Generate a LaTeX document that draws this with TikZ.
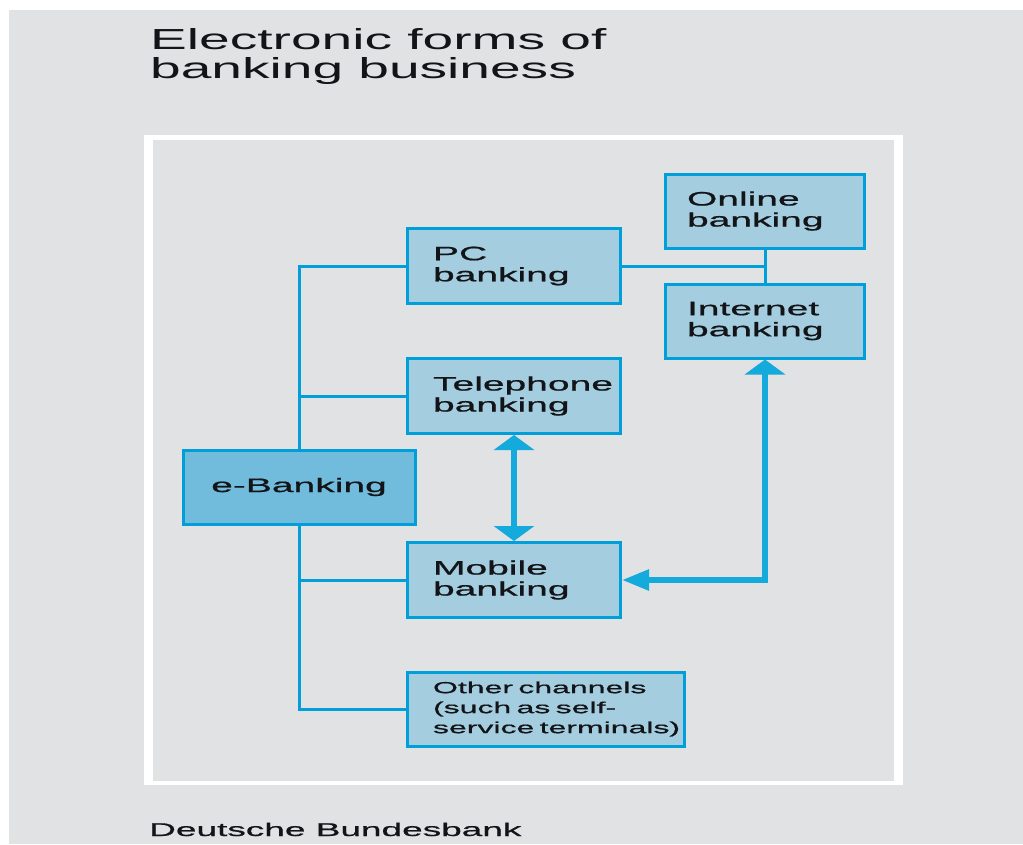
\documentclass[tikz,border=0pt]{standalone}
\usepackage{fontspec}
\usetikzlibrary{arrows.meta}
\newfontfamily\chartfont[FakeStretch=2.0,FakeBold=0.8]{Liberation Sans}
\newfontfamily\titlefont[FakeStretch=1.9]{Liberation Sans}
\definecolor{bbgray}{HTML}{E1E2E4}
\definecolor{bbline}{HTML}{009FDA}
\definecolor{bbarrow}{HTML}{14AADB}
\definecolor{bbbox}{HTML}{A5CDE0}
\definecolor{bbmain}{HTML}{71BCDD}
\definecolor{bbtext}{HTML}{121417}
\hyphenpenalty=10000

\begin{document}
\begin{tikzpicture}[x=1pt,y=-1pt,
	channel/.style={draw=bbline, fill=bbbox, line width=3pt, inner xsep=0pt, align=left, text=bbtext,
		font={\chartfont\fontsize{19.5pt}{21pt}\selectfont}},
	link/.style={draw=bbline, line width=3pt},
	both/.style={draw=bbarrow, line width=5.5pt}]
			\useasboundingbox (0,0) rectangle (1023,844);
			\fill[white] (0,0) rectangle (1023,844);
			\fill[bbgray] (9,10) rectangle (1023,844);
			\fill[white] (144,135) rectangle (903,785);
			\fill[bbgray] (153,140) rectangle (894,781);
			\node[anchor=base west, inner sep=0pt, align=left, text=bbtext,
				font={\titlefont\fontsize{29pt}{29pt}\selectfont}] (title) at (150,78) {Electronic forms of\\banking business};
			\node[anchor=base west, inner sep=0pt, text=bbtext,
				font={\chartfont\fontsize{18.5pt}{20pt}\selectfont}] (source) at (149,836) {Deutsche Bundesbank};
			\node[channel, minimum width=213pt, minimum height=75pt, text width=162pt] (pc) at (514,266) {PC\\banking};
			\node[channel, minimum width=213pt, minimum height=75pt, text width=162pt] (tel) at (514,396) {Telephone\\banking};
			\node[channel, minimum width=213pt, minimum height=75pt, text width=162pt] (mob) at (514,580) {Mobile\\banking};
			\node[channel, minimum width=277pt, minimum height=74pt, text width=226pt,
				font={\chartfont\fontsize{16pt}{20pt}\selectfont}] (other) at (546,709) {Other~channels\\(such as self-\\service~terminals)};
			\node[channel, minimum width=199pt, minimum height=74pt, text width=156pt] (online) at (765,211) {Online\\banking};
			\node[channel, minimum width=199pt, minimum height=74pt, text width=156pt] (inet) at (765,321) {Internet\\banking};
			\node[channel, fill=bbmain, minimum width=232pt, minimum height=74pt, align=center] (ebank) at (299,487) {e-Banking};
			\draw[link] (pc.west) -| (ebank.north);
			\draw[link] (tel.west) -- (tel.west -| ebank.north);
			\draw[link] (ebank.south) |- (other.west);
			\draw[link] (mob.west) -- (mob.west -| ebank.south);
			\draw[link] (pc.east) -- (pc.east -| online.south);
			\draw[link] (online.south) -- (inet.north);
			\draw[both, {Triangle[width=40pt,length=15pt]}-{Triangle[width=40pt,length=15pt]}] (tel.south) -- (mob.north);
			\draw[both, {Triangle[width=40pt,length=15pt]}-{Triangle[width=20pt,length=27pt]}] (inet.south) -- (inet.south |- mob.east) -- (mob.east);
		\end{tikzpicture}
\end{document}
